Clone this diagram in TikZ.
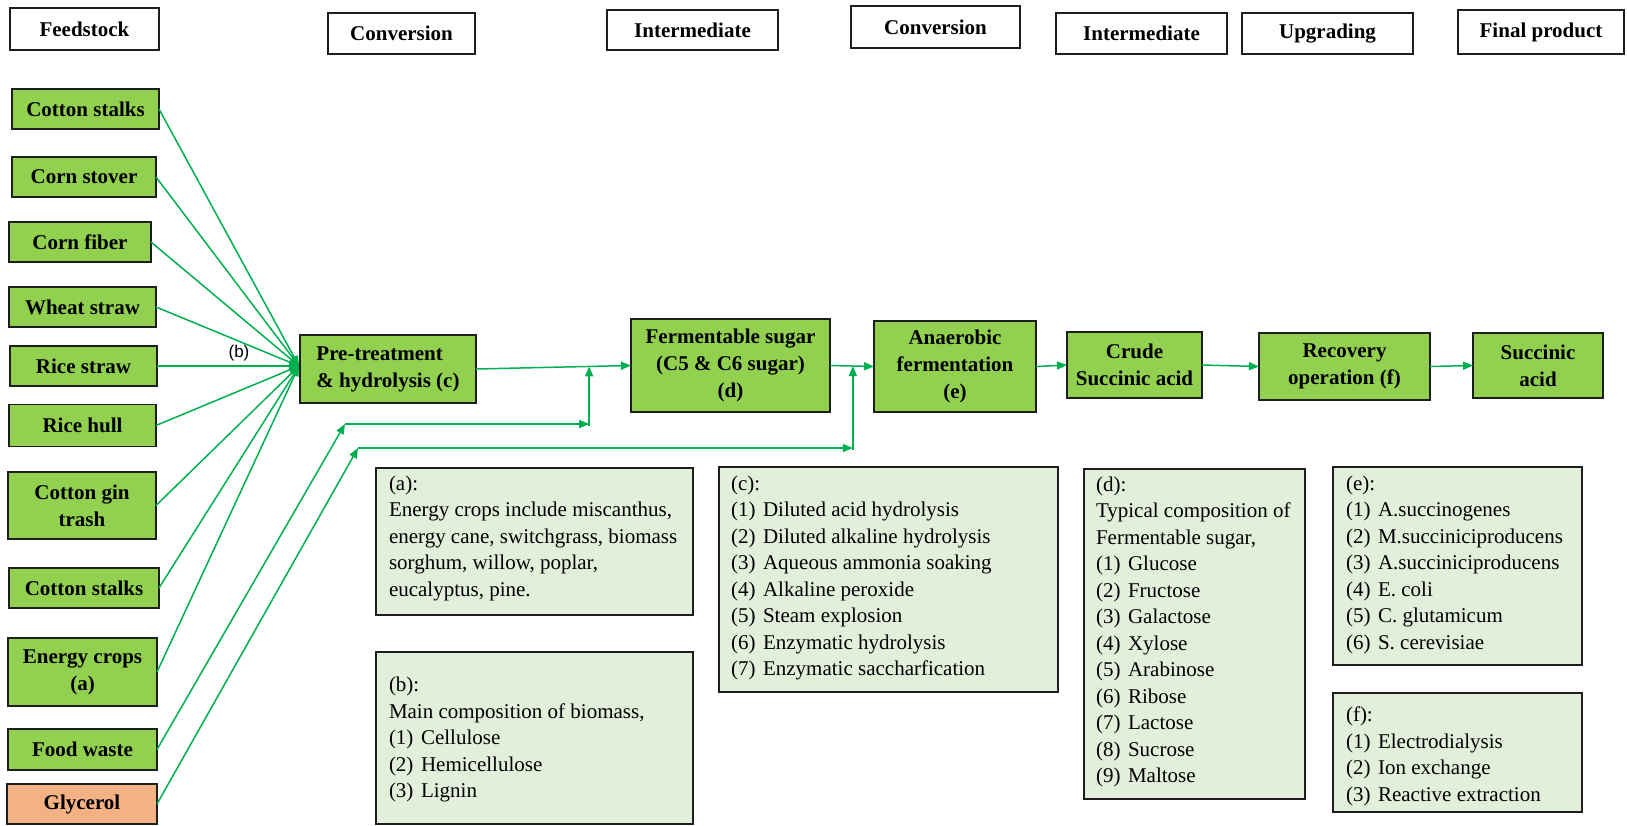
\documentclass[tikz,border=0pt]{standalone}
\usepackage{fontspec}
\setmainfont{LiberationSerif}[Extension=.ttf, UprightFont=*-Regular, BoldFont=*-Bold,
  ItalicFont=*-Italic, BoldItalicFont=*-BoldItalic]
\newfontfamily\labelsans{Liberation Sans}
\usetikzlibrary{arrows.meta,calc}

\definecolor{boxgreen}{RGB}{146,208,80}
\definecolor{boxorange}{RGB}{244,177,131}
\definecolor{notegreen}{RGB}{226,239,218}
\definecolor{flow}{RGB}{0,176,80}
\definecolor{boxline}{RGB}{30,30,30}

\newcommand\itm[1]{(#1)\hspace{0.36em}}

\tikzset{
  every node/.style={inner sep=0pt, outer sep=0pt},
  header/.style={draw=boxline, line width=1.3pt, fill=white,
    font=\bfseries\fontsize{21}{27}\selectfont},
  stage/.style={draw=boxline, line width=1.3pt, fill=boxgreen, align=center,
    font=\bfseries\fontsize{21}{27}\selectfont},
  glyc/.style={stage, fill=boxorange},
  notebox/.style={draw=boxline, line width=1.3pt, fill=notegreen, anchor=north west},
  notetext/.style={anchor=north west, align=left,
    font=\fontsize{21}{26.5}\selectfont},
  flowline/.style={draw=flow, line width=1.5pt},
  arr/.style={flowline, -{Triangle[length=10pt,width=8pt]}},
  fan/.style={flowline, -{Triangle[length=10pt,width=8pt]}},
}

\begin{document}
\begin{tikzpicture}[x=1pt,y=-1pt]
\useasboundingbox (0,0) rectangle (1627,825);

% column headers
\node[header, minimum width=149pt, minimum height=42pt] (hFeed) at (84.5,29) {Feedstock};
\node[header, minimum width=147pt, minimum height=41pt] (hConvA) at (401.5,33.5) {Conversion};
\node[header, minimum width=171pt, minimum height=40pt] (hIntA) at (692.5,30) {Intermediate};
\node[header, minimum width=169pt, minimum height=42pt] (hConvB) at (935.5,27) {Conversion};
\node[header, minimum width=171pt, minimum height=41pt] (hIntB) at (1141.5,33.5) {Intermediate};
\node[header, minimum width=171pt, minimum height=41pt] (hUpg) at (1327.5,33.5) {Upgrading};
\node[header, minimum width=166pt, minimum height=44pt] (hFinal) at (1541,32) {Final product};

% feedstocks
\node[stage, minimum width=147pt, minimum height=40pt] (fa) at (85.5,109) {Cotton stalks};
\node[stage, minimum width=144pt, minimum height=40pt] (fb) at (84,177) {Corn stover};
\node[stage, minimum width=142pt, minimum height=40pt] (fc) at (80,242) {Corn fiber};
\node[stage, minimum width=147pt, minimum height=40pt] (fd) at (82.5,307) {Wheat straw};
\node[stage, minimum width=147pt, minimum height=40pt] (fe) at (83.5,366) {Rice straw};
\node[stage, minimum width=147pt, minimum height=42pt] (ff) at (82.5,425.5) {Rice hull};
\node[stage, minimum width=148pt, minimum height=67pt] (fg) at (82,505.5) {Cotton gin\\trash};
\node[stage, minimum width=150pt, minimum height=40pt] (fh) at (84,588) {Cotton stalks};
\node[stage, minimum width=149pt, minimum height=68pt] (fi) at (82.5,672) {Energy crops\\(a)};
\node[stage, minimum width=149pt, minimum height=41pt] (food) at (82.5,749.5) {Food waste};
\node[glyc, minimum width=150pt, minimum height=40pt] (gly) at (82,804) {Glycerol};

% process chain
\node[stage, align=left, minimum width=176pt, minimum height=68pt] (pre) at (388,369)
  {Pre-treatment\\\& hydrolysis (c)};
\node[stage, minimum width=199pt, minimum height=93pt] (ferm) at (730.5,365.5)
  {Fermentable sugar\\(C5 \& C6 sugar)\\(d)};
\node[stage, minimum width=162pt, minimum height=91pt] (anaer) at (955,366.5)
  {Anaerobic\\fermentation\\(e)};
\node[stage, minimum width=135pt, minimum height=66pt] (crude) at (1134.5,365)
  {Crude\\Succinic acid};
\node[stage, minimum width=171pt, minimum height=67pt] (recov) at (1344.5,366.5)
  {Recovery\\operation (f)};
\node[stage, minimum width=130pt, minimum height=65pt] (succ) at (1538,365.5)
  {Succinic\\acid};

% feedstocks converge on the pre-treatment step
\coordinate (J) at (299,366);
\foreach \f in {fa,fb,fc,fd,fe,ff,fg,fh,fi}
  \draw[fan] (\f.east) -- (J);
\node[font=\labelsans\fontsize{17}{20}\selectfont] (lblb) at (239,353) {(b)};

% main flow
\draw[arr] (pre.east) -- (ferm.west);
\draw[arr] (ferm.east) -- (anaer.west);
\draw[arr] (anaer.east) -- (crude.west);
\draw[arr] (crude.east) -- (recov.west);
\draw[arr] (recov.east) -- (succ.west);

% food waste joins as sugar, glycerol joins at fermentation
\coordinate (c1) at (345,424);
\coordinate (c3) at (358,448);
\coordinate (m1) at ($(pre.east)!0.73!(ferm.west)$);
\coordinate (m2) at ($(ferm.east)!0.52!(anaer.west)$);
\draw[arr] (food.east) -- (c1);
\draw[arr] (c1) -- (c1 -| m1);
\draw[arr] ($(c1 -| m1)+(0,2)$) -- (m1);
\draw[arr] (gly.east) -- (c3);
\draw[arr] (c3) -- (c3 -| m2);
\draw[arr] ($(c3 -| m2)+(0,2)$) -- (m2);

% notes
\node[notebox, minimum width=317pt, minimum height=147pt] (na) at (376,468) {};
\node[notetext] (ta) at (389,475.5) {(a):\\Energy crops include miscanthus,\\energy cane, switchgrass, biomass\\sorghum, willow, poplar,\\eucalyptus, pine.};

\node[notebox, minimum width=317pt, minimum height=172pt] (nb) at (376,652) {};
\node[notetext] (tb) at (389,677) {(b):\\Main composition of biomass,\\\itm{1}Cellulose\\\itm{2}Hemicellulose\\\itm{3}Lignin};

\node[notebox, minimum width=339pt, minimum height=225pt] (nc) at (719,467) {};
\node[notetext] (tc) at (731,475.5) {(c):\\\itm{1}Diluted acid hydrolysis\\\itm{2}Diluted alkaline hydrolysis\\\itm{3}Aqueous ammonia soaking\\\itm{4}Alkaline peroxide\\\itm{5}Steam explosion\\\itm{6}Enzymatic hydrolysis\\\itm{7}Enzymatic saccharfication};

\node[notebox, minimum width=221pt, minimum height=330pt] (nd) at (1084,469) {};
\node[notetext] (td) at (1096,476.5) {(d):\\Typical composition of\\Fermentable sugar,\\\itm{1}Glucose\\\itm{2}Fructose\\\itm{3}Galactose\\\itm{4}Xylose\\\itm{5}Arabinose\\\itm{6}Ribose\\\itm{7}Lactose\\\itm{8}Sucrose\\\itm{9}Maltose};

\node[notebox, minimum width=249pt, minimum height=198pt] (ne) at (1333,467) {};
\node[notetext] (te) at (1346,475.5) {(e):\\\itm{1}A.succinogenes\\\itm{2}M.succiniciproducens\\\itm{3}A.succiniciproducens\\\itm{4}E. coli\\\itm{5}C. glutamicum\\\itm{6}S. cerevisiae};

\node[notebox, minimum width=249pt, minimum height=119pt] (nf) at (1333,693) {};
\node[notetext] (tf) at (1346,707) {(f):\\\itm{1}Electrodialysis\\\itm{2}Ion exchange\\\itm{3}Reactive extraction};
\end{tikzpicture}
\end{document}
